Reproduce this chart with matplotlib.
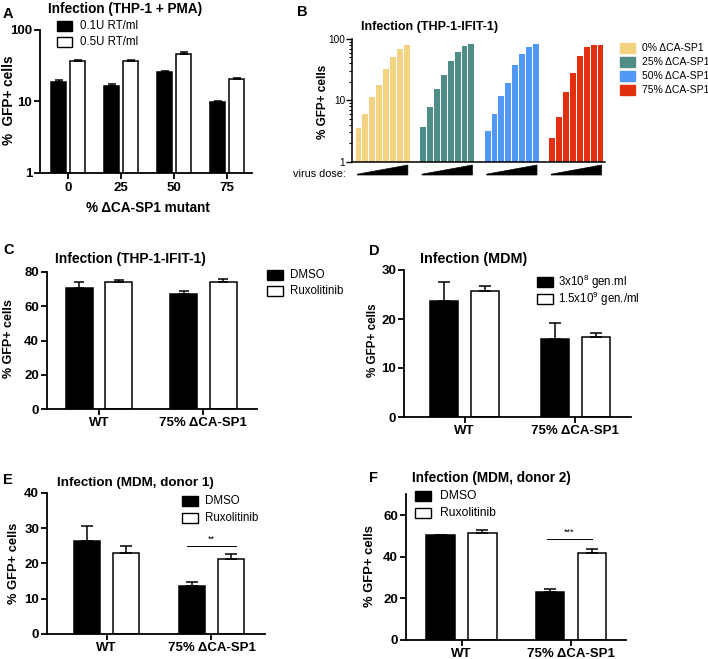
import matplotlib
matplotlib.use("Agg")
import matplotlib.pyplot as plt
import matplotlib.transforms as mtrans
from matplotlib.patches import Rectangle, Polygon
import numpy as np

plt.rcParams['font.family'] = ['Liberation Sans', 'DejaVu Sans']
plt.rcParams['mathtext.fontset'] = 'custom'
plt.rcParams['mathtext.rm'] = 'Liberation Sans'
plt.rcParams['mathtext.it'] = 'Liberation Sans'

# ---------------- data ----------------
a_groups = ['0', '25', '50', '75']
a_low = [18.4, 16.3, 25.6, 9.75]
a_low_err = [1.8, 1.1, 0.9, 0.35]
a_high = [36.5, 36.5, 46.8, 20.9]
a_high_err = [1.5, 1.0, 2.5, 0.3]
a_labels = ['0.1U RT/ml', '0.5U RT/ml']

b_series = ['0% ΔCA-SP1', '25% ΔCA-SP1', '50% ΔCA-SP1', '75% ΔCA-SP1']
b_0 = [3.6, 6.0, 11.4, 17.9, 32.9, 51.5, 69.5, 80.8]
b_25 = [3.7, 7.8, 15.4, 25.7, 43.9, 61.5, 76.9, 82.9]
b_50 = [3.2, 6.1, 11.7, 19.0, 38.2, 57.0, 74.1, 82.0]
b_75 = [2.4, 5.3, 13.9, 28.3, 52.9, 73.3, 79.9, 79.9]
b_colors = ['#F4D283', '#4E8D88', '#5097F6', '#E2300E']

cat2 = ['WT', '75% ΔCA-SP1']
c_dmso = [70.7, 67.2]
c_dmso_err = [3.3, 1.6]
c_rux = [73.8, 74.0]
c_rux_err = [1.4, 1.6]

d_low = [23.7, 16.0]
d_low_err = [3.9, 3.2]
d_high = [25.8, 16.3]
d_high_err = [0.9, 0.9]
d_labels = ['3x10$^{8}$ gen.ml', '1.5x10$^{9}$ gen./ml']

e_dmso = [26.3, 13.7]
e_dmso_err = [4.3, 1.1]
e_rux = [23.0, 21.1]
e_rux_err = [1.9, 1.6]
e_sig = 24.9

f_dmso = [50.3, 22.9]
f_dmso_err = [0.3, 1.6]
f_rux = [51.3, 41.9]
f_rux_err = [1.6, 1.6]
f_sig = 48.6

W, H = 708, 659
fig = plt.figure(figsize=(W / 100, H / 100), dpi=100)


def ax_px(l, t, r, b):
    return fig.add_axes([l / W, 1 - b / H, (r - l) / W, (b - t) / H])


def fx(x):
    return x / W


def fy(y):
    return 1 - y / H


def ftext(x, y, s, **kw):
    fig.text(fx(x), fy(y), s, **kw)


def legend_px(x_box, y_rows, labels, faces, x_text, size=8.3, bw=16, bh=10, edge=True):
    for y, lab, fc in zip(y_rows, labels, faces):
        r = Rectangle((fx(x_box), fy(y + bh / 2)), bw / W, bh / H, transform=fig.transFigure,
                      facecolor=fc, edgecolor='black' if edge else fc, linewidth=1.0)
        fig.patches.append(r)
        ftext(x_text, y, lab, fontsize=size, ha='left', va='center')


def style(ax, lw=1.3):
    for s in ['top', 'right']:
        ax.spines[s].set_visible(False)
    for s in ['left', 'bottom']:
        ax.spines[s].set_linewidth(lw)
    ax.tick_params(axis='both', width=lw, length=4, labelsize=9.5, pad=1.5)
    for lab in ax.get_xticklabels() + ax.get_yticklabels():
        lab.set_fontweight('bold')


def grouped(ax, v1, e1, v2, e2, off, w, caps=3.5):
    x = np.arange(len(v1))
    ax.bar(x - off, v1, w, color='black', edgecolor='black', linewidth=1.1, zorder=2)
    ax.bar(x + off, v2, w, color='white', edgecolor='black', linewidth=1.1, zorder=2)
    ax.errorbar(x - off, v1, yerr=[np.zeros(len(v1)), e1], fmt='none', ecolor='black',
                elinewidth=1.1, capsize=caps, capthick=1.1, zorder=3)
    ax.errorbar(x + off, v2, yerr=[np.zeros(len(v2)), e2], fmt='none', ecolor='black',
                elinewidth=1.1, capsize=caps, capthick=1.1, zorder=3)
    return x


# ---------------- Panel A ----------------
axA = ax_px(40, 30, 252, 172.7)
xA = grouped(axA, a_low, a_low_err, a_high, a_high_err, 0.18, 0.28, caps=2.8)
axA.set_yscale('log')
axA.set_ylim(1, 100)
axA.set_xlim(-0.53, 3.47)
axA.set_yticks([1, 10, 100])
axA.set_yticklabels(['1', '10', '100'])
axA.yaxis.set_minor_locator(matplotlib.ticker.NullLocator())
axA.set_xticks(xA)
axA.set_xticklabels(a_groups)
style(axA)
axA.tick_params(axis='x', pad=3)
ftext(3, 13.5, 'A', fontsize=10.5, fontweight='bold', ha='left', va='center')
ftext(48, 9, 'Infection (THP-1 + PMA)', fontsize=9.8, fontweight='bold', ha='left', va='center')
ftext(9, 100, '%  GFP+ cells', fontsize=9.8, fontweight='bold', rotation=90, ha='center', va='center')
ftext(148, 208, '% ΔCA-SP1 mutant', fontsize=9.8, fontweight='bold', ha='center', va='center')
legend_px(56.7, [25.7, 42], a_labels, ['black', 'white'], 80, size=8.3, bw=15, bh=10)

# ---------------- Panel B ----------------
axB = ax_px(352, 39, 605, 161.7)
gpitch = 9.35
for g, (vals, col) in enumerate(zip([b_0, b_25, b_50, b_75], b_colors)):
    xs = g * gpitch + np.arange(len(vals))
    axB.bar(xs, vals, 0.86, color=col, edgecolor='none', zorder=2)
    trans = mtrans.blended_transform_factory(axB.transData, axB.transAxes)
    y_bot = -(175 - 161.7) / 122.7
    y_top = -(165 - 161.7) / 122.7
    y_tip = -(174.2 - 161.7) / 122.7
    tri = Polygon([(g * gpitch - 0.15, y_tip), (g * gpitch + 7.15, y_top),
                   (g * gpitch + 7.15, y_bot), (g * gpitch - 0.15, y_bot)],
                  closed=True, transform=trans, facecolor='black', edgecolor='black',
                  linewidth=0.5, clip_on=False)
    axB.add_patch(tri)
axB.set_yscale('log')
axB.set_ylim(1, 100)
axB.set_xlim(-0.94, 3 * gpitch + 7 + 0.65)
axB.set_xticks([])
for s in ['top', 'right']:
    axB.spines[s].set_visible(False)
axB.spines['left'].set_linewidth(1.1)
axB.spines['bottom'].set_linewidth(1.1)
axB.set_yticks([1, 10, 100])
axB.set_yticklabels(['1', '10', '100'])
axB.tick_params(axis='y', which='major', width=1.0, length=4, labelsize=7.2, pad=1)
axB.tick_params(axis='y', which='minor', width=0.8, length=2.2)
ftext(297.5, 12, 'B', fontsize=10.5, fontweight='bold', ha='left', va='center')
ftext(361, 27, 'Infection (THP-1-IFIT-1)', fontsize=9, fontweight='bold', ha='left', va='center')
ftext(323.5, 102, '% GFP+ cells', fontsize=8.5, fontweight='bold', rotation=90, ha='center', va='center')
ftext(293, 174, 'virus dose:', fontsize=7.8, ha='left', va='center')
legend_px(620, [48.3, 62.2, 76.2, 90.3], b_series, b_colors, 642, size=7.5, bw=15, bh=10, edge=False)

# ---------------- Panel C ----------------
axC = ax_px(46.7, 271.7, 256.7, 409.3)
xC = grouped(axC, c_dmso, c_dmso_err, c_rux, c_rux_err, 0.19, 0.26, caps=3.6)
axC.set_ylim(0, 80)
axC.set_yticks([0, 20, 40, 60, 80])
axC.set_xlim(-0.5, 1.51)
axC.set_xticks(xC)
axC.set_xticklabels(cat2)
style(axC)
ftext(3, 249.7, 'C', fontsize=10.5, fontweight='bold', ha='left', va='center')
ftext(55, 258.7, 'Infection (THP-1-IFIT-1)', fontsize=10, fontweight='bold', ha='left', va='center')
ftext(9, 339, '% GFP+ cells', fontsize=9, fontweight='bold', rotation=90, ha='center', va='center')
legend_px(267, [275, 291.2], ['DMSO', 'Ruxolitinib'], ['black', 'white'], 290, size=8.3)

# ---------------- Panel D ----------------
axD = ax_px(404, 270, 630.7, 417)
xD = grouped(axD, d_low, d_low_err, d_high, d_high_err, 0.185, 0.25, caps=4.5)
axD.set_ylim(0, 30)
axD.set_yticks([0, 10, 20, 30])
axD.set_xlim(-0.548, 1.50)
axD.set_xticks(xD)
axD.set_xticklabels(cat2)
style(axD)
ftext(369, 251, 'D', fontsize=10.5, fontweight='bold', ha='left', va='center')
ftext(420, 258.7, 'Infection (MDM)', fontsize=10.3, fontweight='bold', ha='left', va='center')
ftext(373, 340, '% GFP+ cells', fontsize=8.4, fontweight='bold', rotation=90, ha='center', va='center')
legend_px(537.3, [282.2, 299], d_labels, ['black', 'white'], 558, size=8.3)

# ---------------- Panel E ----------------
axE = ax_px(46.7, 492.7, 265, 634)
xE = grouped(axE, e_dmso, e_dmso_err, e_rux, e_rux_err, 0.185, 0.25, caps=4)
axE.set_ylim(0, 40)
axE.set_yticks([0, 10, 20, 30, 40])
axE.set_xlim(-0.57, 1.51)
axE.set_xticks(xE)
axE.set_xticklabels(cat2)
style(axE)
axE.plot([0.766, 1.237], [e_sig, e_sig], color='black', linewidth=0.7, zorder=3)
axE.annotate('**', xy=(1.0, e_sig), xytext=(0, 1.5), textcoords='offset points',
             ha='center', va='bottom', fontsize=6.5)
ftext(3, 480, 'E', fontsize=10.5, fontweight='bold', ha='left', va='center')
ftext(57, 483, 'Infection (MDM, donor 1)', fontsize=9.6, fontweight='bold', ha='left', va='center')
ftext(14, 563, '% GFP+ cells', fontsize=9.3, fontweight='bold', rotation=90, ha='center', va='center')
legend_px(181.7, [501.3, 518], ['DMSO', 'Ruxolitinib'], ['black', 'white'], 205, size=8.3)

# ---------------- Panel F ----------------
axF = ax_px(405.7, 494.3, 625.7, 640)
xF = grouped(axF, f_dmso, f_dmso_err, f_rux, f_rux_err, 0.19, 0.26, caps=4)
axF.set_ylim(0, 70)
axF.set_yticks([0, 20, 40, 60])
axF.set_xlim(-0.51, 1.50)
axF.set_xticks(xF)
axF.set_xticklabels(cat2)
style(axF)
axF.plot([0.78, 1.19], [f_sig, f_sig], color='black', linewidth=0.7, zorder=3)
axF.annotate('***', xy=(0.985, f_sig), xytext=(0, 1.5), textcoords='offset points',
             ha='center', va='bottom', fontsize=6.5)
ftext(369, 478, 'F', fontsize=10.5, fontweight='bold', ha='left', va='center')
ftext(412, 477.8, 'Infection (MDM, donor 2)', fontsize=9.8, fontweight='bold', ha='left', va='center')
ftext(370, 566, '% GFP+ cells', fontsize=9.4, fontweight='bold', rotation=90, ha='center', va='center')
legend_px(415, [495.8, 512.7], ['DMSO', 'Ruxolitinib'], ['black', 'white'], 440, size=8.7)

fig.savefig('out.png', dpi=100)
